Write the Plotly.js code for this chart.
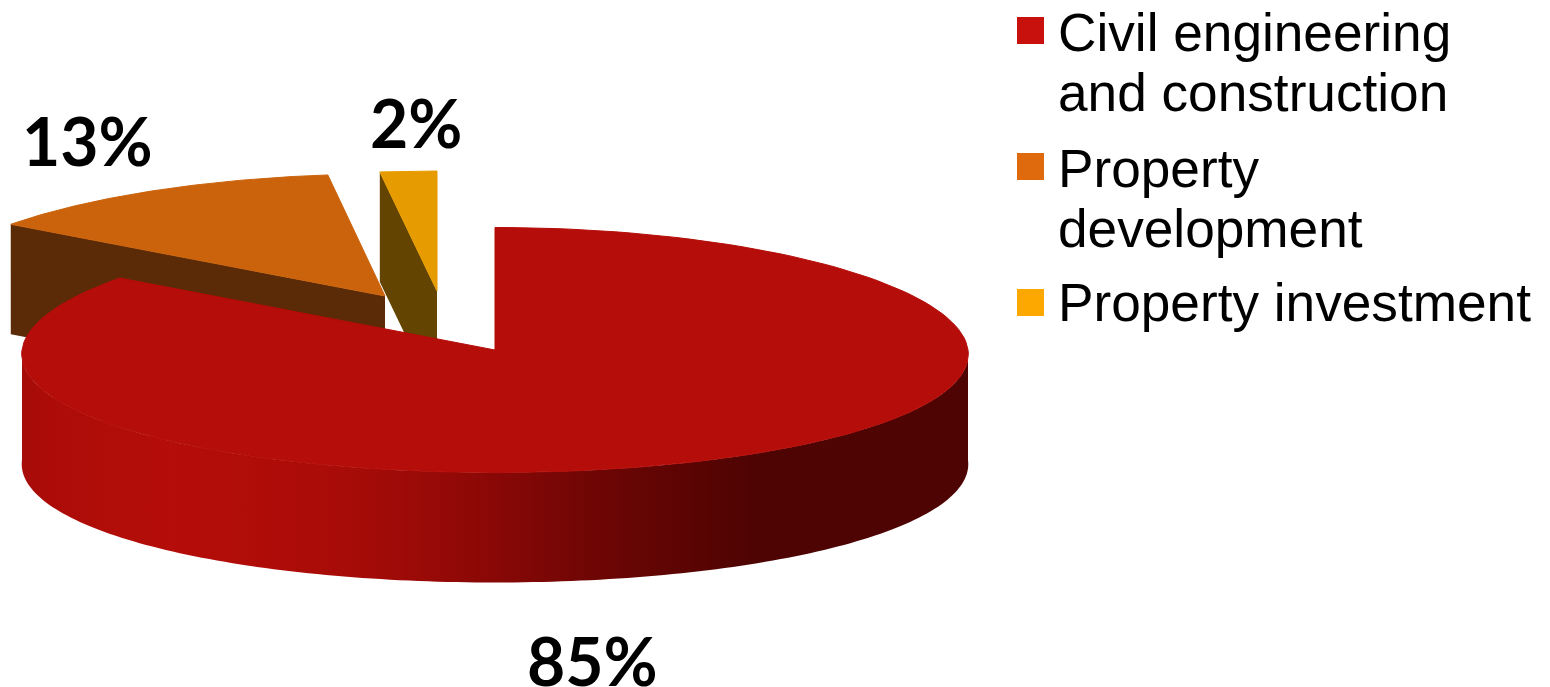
<!DOCTYPE html>
<html>
<head>
<meta charset="utf-8">
<script src="https://cdn.plot.ly/plotly-3.0.1.min.js"></script>
<style>html,body{margin:0;padding:0;background:#fff;overflow:hidden}</style>
</head>
<body>
<div id="chart" style="width:1550px;height:687px"></div>
<script>
const categories = ["Civil engineering and construction", "Property development", "Property investment"];
const shares = [85, 13, 2];
const labelLines = [["Civil engineering", "and construction"], ["Property", "development"], ["Property investment"]];

const topColors = ["#B50D09", "#CB630C", "#E69C00"];
const wallColors = ["#B50D09", "#5A2B06", "#634400"];
const swatchColors = ["#C8110D", "#DF6A0D", "#FCA800"];

// projected pie geometry (pixel-like axis units)
const apexX = [495, 385, 437];
const apexY = [350, 296, 291];
const radiusX = [473, 472, 472];
const radiusY = [122.5, 122, 120];
const depth = 110;
const perspective = 0.034;

const swatchX = [1030.5, 1030.5, 1030.5];
const swatchY = [30.5, 166.5, 302.5];
const lineY = [[32, 92], [168, 228], [302]];
const textX = 1058;
const pctX = [592, 87, 416];
const pctY = [660, 140, 122];

const total = shares.reduce((a, b) => a + b, 0);
let c = 0;
const turns = shares.map(v => { const r = [c, c + v / total]; c += v / total; return r; });

function arc(i, from, to) {
  const xs = [], ys = [], n = 160;
  for (let k = 0; k <= n; k++) {
    const t = from + (to - from) * k / n;
    xs.push(apexX[i] + radiusX[i] * Math.sin(t) * (1 - perspective * Math.cos(t)));
    ys.push(apexY[i] - radiusY[i] * Math.cos(t));
  }
  return { xs, ys };
}
const TAU = 2 * Math.PI;
function poly(x, y, color, extra) {
  return Object.assign({
    type: "scatter", mode: "none", x, y, fill: "toself", fillcolor: color,
    hoverinfo: "skip", showlegend: false
  }, extra || {});
}
function topFace(i) {
  const a = arc(i, turns[i][0] * TAU, turns[i][1] * TAU);
  return poly([apexX[i], ...a.xs, apexX[i]], [apexY[i], ...a.ys, apexY[i]], topColors[i], {
    name: categories[i], mode: "lines", line: { color: topColors[i], width: 1 }
  });
}
// flat inner wall running along the leading edge of a small wedge
function innerWall(i, t) {
  const a = arc(i, t, t);
  return poly([a.xs[0], apexX[i], apexX[i], a.xs[0], a.xs[0]],
    [a.ys[0], apexY[i], apexY[i] + depth, a.ys[0] + depth, a.ys[0]], wallColors[i]);
}
function outerWall() {
  const a = arc(0, TAU / 4, 3 * TAU / 4);
  return poly([...a.xs, ...a.xs.slice().reverse()],
    [...a.ys, ...a.ys.slice().reverse().map(y => y + depth)], wallColors[0], {
      fillgradient: {
        type: "horizontal",
        colorscale: [[0, "#A60C08"], [0.03, "#AC0C08"], [0.156, "#B50D09"], [0.24, "#B00C08"],
          [0.34, "#A80C08"], [0.42, "#9A0A07"], [0.505, "#870806"], [0.61, "#6D0604"],
          [0.717, "#580403"], [0.78, "#4D0403"], [1, "#4D0403"]]
      }
    });
}

const traces = [
  innerWall(2, turns[2][0] * TAU), topFace(2),
  innerWall(1, turns[1][0] * TAU), topFace(1),
  outerWall(), topFace(0),
  { type: "scatter", mode: "markers", x: swatchX, y: swatchY, text: categories, hoverinfo: "text",
    marker: { symbol: "square", size: 27, color: swatchColors, line: { width: 0 } }, showlegend: false }
];

const annotations = [];
labelLines.forEach((lines, i) => lines.forEach((s, j) => annotations.push({
  x: textX, y: lineY[i][j], xref: "x", yref: "y", text: s, showarrow: false, xanchor: "left", yanchor: "middle",
  font: { family: "Liberation Sans, Arial, sans-serif", size: 53.2, color: "#000" }, xshift: -2
})));
shares.forEach((v, i) => annotations.push({
  x: pctX[i], y: pctY[i], xref: "x", yref: "y", text: "<b>" + v + "%</b>", showarrow: false,
  xanchor: "center", yanchor: "middle",
  font: { family: "Lato, sans-serif", size: 66, color: "#000" }
}));

Plotly.newPlot("chart", traces, {
  width: 1550, height: 687, margin: { l: 0, r: 0, t: 0, b: 0 },
  paper_bgcolor: "#fff", plot_bgcolor: "#fff", showlegend: false,
  xaxis: { range: [0, 1550], visible: false, fixedrange: true },
  yaxis: { range: [687, 0], visible: false, fixedrange: true },
  annotations
}, { displayModeBar: false, staticPlot: true });
</script>
</body>
</html>
